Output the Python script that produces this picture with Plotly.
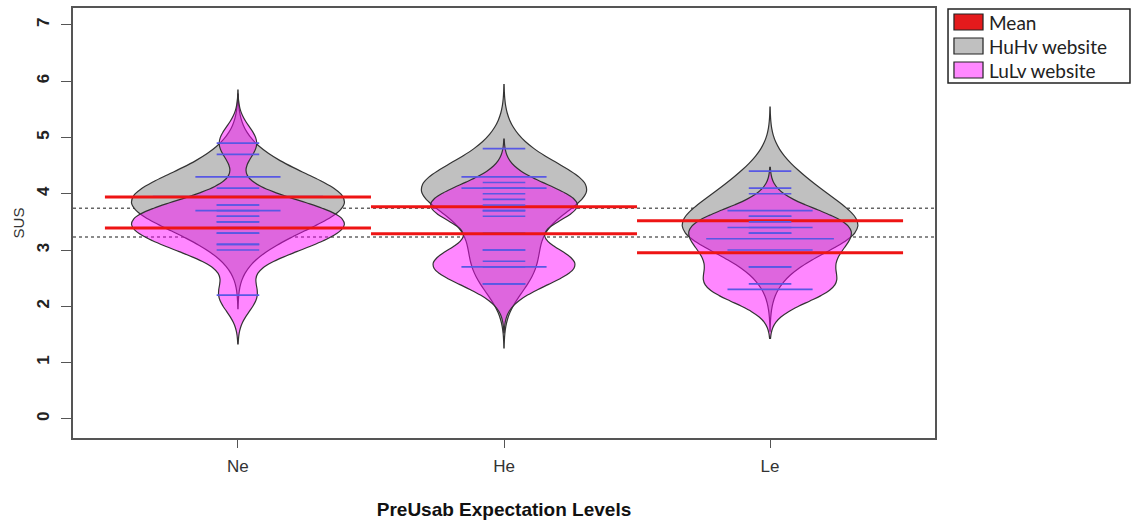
import plotly.graph_objects as go
from collections import Counter

# ---------------- data ----------------
categories = ["Ne", "He", "Le"]
positions = [1, 2, 3]

# individual SUS observations (one bean line each)
huhv_ne = [4.7, 4.3, 4.3, 4.1, 3.95, 3.95, 3.95, 3.95, 3.8, 3.7, 3.7, 3.6, 3.5, 3.3, 3.1]
huhv_he = [4.8, 4.3, 4.3, 4.2, 4.1, 4.1, 4.0, 3.77, 3.7, 3.3, 3.0, 2.7, 2.4]
huhv_le = [4.4, 4.1, 4.0, 3.7, 3.7, 3.6, 3.4, 3.4, 3.3, 3.2, 3.2, 3.2, 2.7]

lulv_ne = [4.9, 3.8, 3.7, 3.6, 3.5, 3.4, 3.3, 3.1, 3.0, 2.2]
lulv_he = [4.1, 3.9, 3.8, 3.7, 3.6, 3.0, 2.8, 2.7, 2.7, 2.4]
lulv_le = [3.6, 3.5, 3.4, 3.3, 3.0, 3.0, 2.7, 2.4, 2.3, 2.3]

# bean means (red lines) and overall means (dotted lines)
huhv_means = [3.94, 3.77, 3.52]
lulv_means = [3.39, 3.29, 2.95]
huhv_overall_mean = 3.74
lulv_overall_mean = 3.23

y_ticks = [0, 1, 2, 3, 4, 5, 6, 7]
legend_labels = ["Mean", "HuHv website", "LuLv website"]

# ---------------- styling ----------------
GREY_FILL = "#C0C0C0"
PINK_FILL = "rgba(255,0,255,0.47)"
MEAN_COLOR = "#EE1414"
BEANLINE_COLOR = "rgb(88,88,228)"
AXIS_COLOR = "#555555"
FONT = "Liberation Sans, Arial, sans-serif"
LINE_LEN = 0.16     # length of one bean line
MEAN_HALF = 0.5     # half length of the mean line
# maximum drawn width of each bean (style, per group)
GREY_BEAN_WIDTHS = [0.80, 0.62, 0.66]
PINK_BEAN_WIDTHS = [0.80, 0.55, 0.61]

series = [
    dict(name="HuHv website", data=[huhv_ne, huhv_he, huhv_le], means=huhv_means,
         bw=0.38, fill=GREY_FILL, widths=GREY_BEAN_WIDTHS),
    dict(name="LuLv website", data=[lulv_ne, lulv_he, lulv_le], means=lulv_means,
         bw=0.29, fill=PINK_FILL, widths=PINK_BEAN_WIDTHS),
]

fig = go.Figure()

for s in series:
    for vals, pos, w in zip(s["data"], positions, s["widths"]):
        lo = min(vals) - 3 * s["bw"]
        hi = max(vals) + 3 * s["bw"]
        fig.add_trace(go.Violin(
            x0=pos, y=vals, name=s["name"], showlegend=False,
            width=w, bandwidth=s["bw"], spanmode="manual", span=[lo, hi],
            scalemode="width",
            fillcolor=s["fill"], line=dict(color="#333333", width=1.2),
            points=False, box_visible=False, meanline_visible=False,
            hoverinfo="skip",
        ))
    # bean lines: one per observation, longer for duplicates
    bx, by = [], []
    for vals, pos in zip(s["data"], positions):
        for v, c in sorted(Counter(vals).items()):
            half = LINE_LEN * c / 2
            bx += [pos - half, pos + half, None]
            by += [v, v, None]
    fig.add_trace(go.Scatter(x=bx, y=by, mode="lines", showlegend=False,
                             line=dict(color=BEANLINE_COLOR, width=1.7),
                             hoverinfo="skip"))
    # mean lines
    mx, my = [], []
    for m, pos in zip(s["means"], positions):
        mx += [pos - MEAN_HALF, pos + MEAN_HALF, None]
        my += [m, m, None]
    fig.add_trace(go.Scatter(x=mx, y=my, mode="lines", showlegend=False,
                             line=dict(color=MEAN_COLOR, width=3),
                             hoverinfo="skip"))

# dotted overall mean lines
for m in [huhv_overall_mean, lulv_overall_mean]:
    fig.add_shape(type="line", xref="paper", x0=0, x1=1, yref="y", y0=m, y1=m,
                  line=dict(color="#666666", width=1.5, dash="dot"), layer="below")

# ---------------- legend (R style boxed key, outside the plot) ----------------
leg_box = dict(x0=1.0151, x1=1.2262, y0=0.8256, y1=0.9977)
leg_swatch_colors = ["#E41A1C", GREY_FILL, "#FF88FF"]
leg_rows = [0.9674, 0.9116, 0.8558]
fig.add_shape(type="rect", xref="paper", yref="paper", **leg_box,
              line=dict(color="#222222", width=1.5), fillcolor="white")
for lab, col, yc in zip(legend_labels, leg_swatch_colors, leg_rows):
    fig.add_shape(type="rect", xref="paper", yref="paper",
                  x0=1.0220, x1=1.0557, y0=yc - 0.0186, y1=yc + 0.0186,
                  line=dict(color="#222222", width=1.2), fillcolor=col)
    fig.add_annotation(xref="paper", yref="paper", x=1.0603, y=yc, text=lab,
                       showarrow=False, xanchor="left", yanchor="middle",
                       font=dict(family="Lato, sans-serif", size=19, color="#222222"))

fig.update_layout(
    width=1134, height=525,
    margin=dict(l=73, r=199, t=8, b=87, autoexpand=False),
    paper_bgcolor="white", plot_bgcolor="white",
    showlegend=False,
    violinmode="overlay", violingap=0, violingroupgap=0,
    font=dict(family=FONT, color="#333333"),
    xaxis=dict(type="linear", range=[0.38, 3.62], automargin=False,
               tickmode="array", tickvals=positions, ticktext=categories,
               ticks="outside", ticklen=8, tickcolor=AXIS_COLOR, tickwidth=1,
               ticklabelstandoff=4,
               showline=True, linecolor=AXIS_COLOR, linewidth=1.5, mirror=True,
               showgrid=False, zeroline=False,
               tickfont=dict(size=17, color="#333333", family=FONT),
               title=dict(text="<b>PreUsab Expectation Levels</b>", standoff=28,
                          font=dict(size=19, color="#111111", family=FONT))),
    yaxis=dict(range=[-0.34, 7.30], tickmode="array", tickvals=y_ticks,
               automargin=False,
               ticks="outside", ticklen=10, tickcolor=AXIS_COLOR, tickwidth=1,
               tickangle=-90, ticklabelstandoff=5,
               showline=True, linecolor=AXIS_COLOR, linewidth=1.5, mirror=True,
               showgrid=False, zeroline=False,
               tickfont=dict(size=17, color="#222222", family=FONT, weight="bold"),
               title=dict(text="SUS", standoff=6,
                          font=dict(size=15, color="#333333", family=FONT))),
)

fig.write_html("out.html")
